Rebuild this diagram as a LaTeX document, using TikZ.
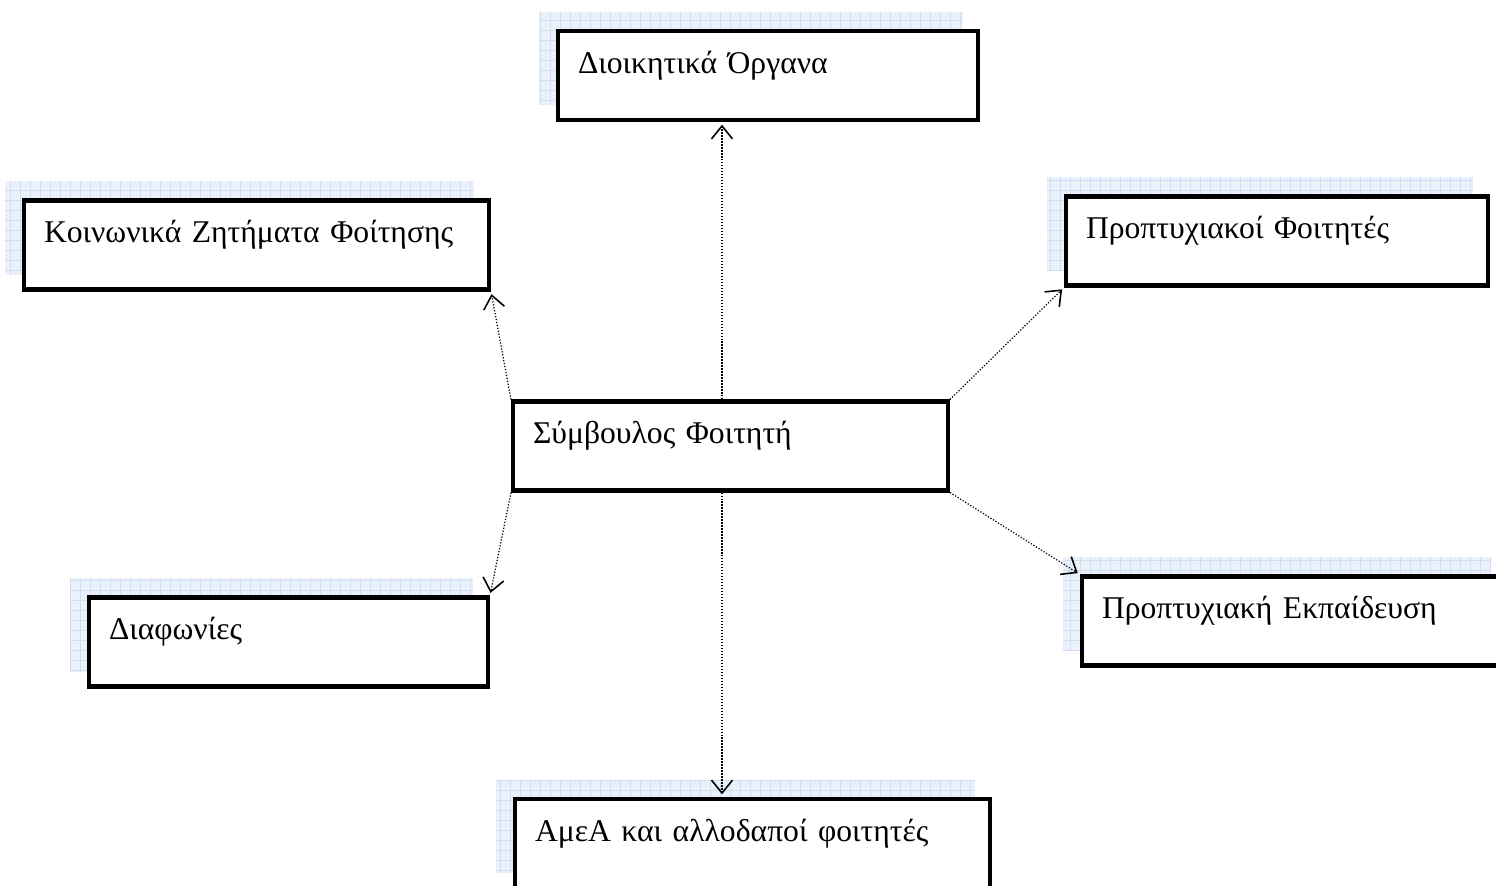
\documentclass[tikz,border=0pt]{standalone}
\usepackage{fontspec}
\setmainfont{Liberation Serif}
\usetikzlibrary{arrows.meta,backgrounds}
\definecolor{gridfill}{RGB}{234,241,251}
\definecolor{gridline}{RGB}{208,222,243}
\begin{document}
\begin{tikzpicture}[
  box/.style={draw=black, line width=2.3pt, fill=white, inner xsep=0.4cm, inner ysep=0pt,
    text height=0.84cm, text depth=0.94cm, align=left, font=\fontsize{18}{22}\selectfont},
  link/.style={densely dotted, line width=0.7pt, shorten >=1.5pt,
    -{Straight Barb[length=0.26cm,width=0.42cm,line width=0.9pt]}}]
\useasboundingbox (0,0) rectangle (29.92,-17.72);
\node[box, text width=7.6cm] (dioik) at (15.36,-1.51) {Διοικητικά Όργανα};
\node[box, text width=8.5cm] (koin) at (5.13,-4.90) {Κοινωνικά Ζητήματα Φοίτησης};
\node[box, text width=7.64cm] (proptf) at (25.54,-4.82) {Προπτυχιακοί Φοιτητές};
\node[box, text width=7.9cm] (symb) at (14.61,-8.92) {Σύμβουλος Φοιτητή};
\node[box, text width=7.18cm] (diaf) at (5.77,-12.84) {Διαφωνίες};
\node[box, text width=7.68cm] (ekp) at (25.88,-12.42) {Προπτυχιακή Εκπαίδευση};
\node[box, text width=8.7cm] (amea) at (15.05,-16.87) {ΑμεΑ και αλλοδαποί φοιτητές};
% grid backdrops behind the boxes
\begin{scope}[on background layer]
\foreach \n in {dioik,koin,proptf,diaf,ekp,amea}{
  \begin{scope}
  \clip ([shift={(-0.34,0.34)}]\n.north west) rectangle ([shift={(-0.34,0.34)}]\n.south east);
  \fill[gridfill] ([shift={(-0.34,0.34)}]\n.north west) rectangle ([shift={(-0.34,0.34)}]\n.south east);
  \draw[gridline, step=0.2cm, line width=0.3pt] ([shift={(-0.34,0.34)}]\n.north west) grid ([shift={(-0.34,0.34)}]\n.south east);
  \end{scope}
}
\end{scope}
\coordinate (up) at ([xshift=-0.17cm]symb.north);
\coordinate (down) at ([xshift=-0.17cm]symb.south);
\draw[link] (up) -- (up |- dioik.south);
\draw[link] (down) -- (down |- amea.north);
\draw[link] (symb.north west) -- (koin.south east);
\draw[link] (symb.north east) -- (proptf.south west);
\draw[link] (symb.south west) -- (diaf.north east);
\draw[link] (symb.south east) -- (ekp.north west);
\end{tikzpicture}
\end{document}
